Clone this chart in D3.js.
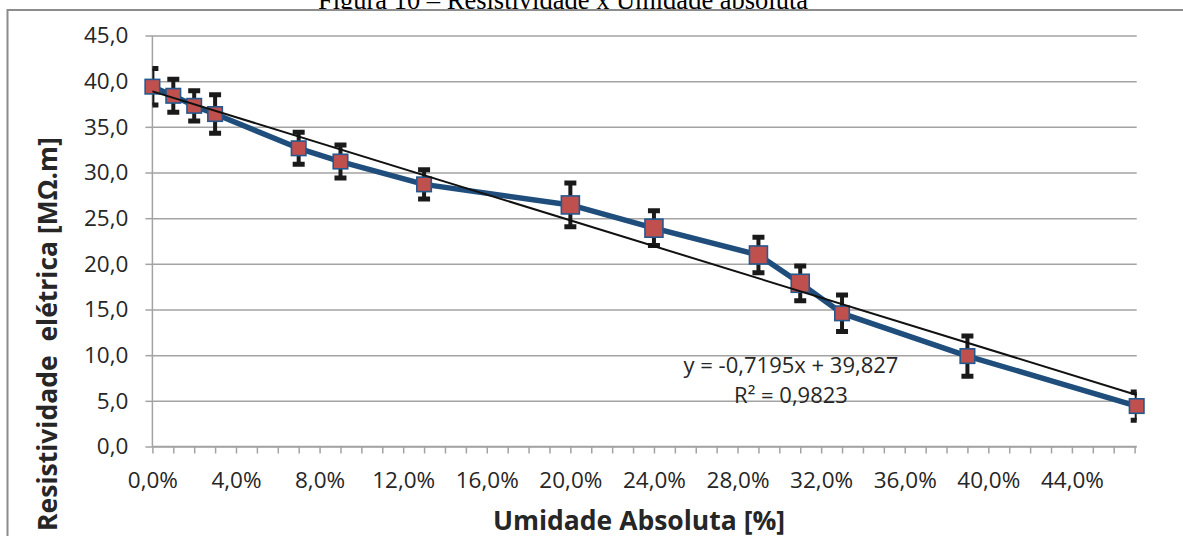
<!DOCTYPE html>
<html>
<head>
<meta charset="utf-8">
<script src="https://cdn.jsdelivr.net/npm/d3@7"></script>
<style>
  body { margin: 0; background: #fff; }
  svg { display: block; }
</style>
</head>
<body>
<script>
// dados
var umidade = [0, 1, 2, 3, 7, 9, 13, 20, 24, 29, 31, 33, 39, 47.1];          // %
var resistividade = [39.4, 38.4, 37.3, 36.4, 32.65, 31.2, 28.7, 26.45, 23.9, 20.97, 17.87, 14.58, 9.9, 4.43]; // MOhm.m
var erro = [2.0, 1.8, 1.65, 2.1, 1.75, 1.8, 1.6, 2.4, 1.9, 1.95, 1.9, 2.0, 2.2, 1.55];
var xTicks = [0, 4, 8, 12, 16, 20, 24, 28, 32, 36, 40, 44];
var yTicks = [0, 5, 10, 15, 20, 25, 30, 35, 40, 45];
var equacao = ["y = -0,7195x + 39,827", "R² = 0,9823"];
var titulo = "Figura 10 – Resistividade x Umidade absoluta";
var tituloX = "Umidade Absoluta [%]";
var tituloY = "Resistividade  elétrica [MΩ.m]";

var W = 1183, H = 536;
var pLeft = 152.4, pRight = 1136.7, pTop = 35.5, pBottom = 446.5;
var font = "'Open Sans', 'Noto Sans', sans-serif";
var grid = "#a3a3a3", txt = "#262626";

var pt = d3.formatLocale({decimal: ",", thousands: ".", grouping: [3], currency: ["R$", ""]});
var fmt1 = pt.format(".1f");

var svg = d3.select('body').append('svg').attr('width', W).attr('height', H);

// legenda da figura (cortada no topo)
svg.append('text')
  .attr('x', 563).attr('y', 9)
  .attr('text-anchor', 'middle')
  .style('font-family', "'Liberation Serif', 'Times New Roman', serif")
  .style('font-size', '26.5px')
  .attr('fill', '#000')
  .text(titulo);

// area do grafico
svg.append('rect')
  .attr('x', 7.5).attr('y', 10).attr('width', W + 10).attr('height', H + 10)
  .attr('fill', '#fff').attr('stroke', '#8c8c8c').attr('stroke-width', 2);

var x = d3.scaleLinear().domain([0, umidade[umidade.length - 1]]).range([pLeft, pRight]);
var y = d3.scaleLinear().domain([0, 45]).range([pBottom, pTop]);

svg.append('clipPath').attr('id', 'plot')
  .append('rect').attr('x', pLeft).attr('y', pTop - 20).attr('width', pRight - pLeft).attr('height', pBottom - pTop + 20);

// grade horizontal + ticks do eixo y
var yAxis = svg.append('g').attr('transform', 'translate(' + pLeft + ',0)')
  .call(d3.axisLeft(y).tickValues(yTicks).tickSize(7).tickPadding(17).tickFormat(fmt1));
yAxis.selectAll('.tick line').clone()
  .attr('x2', pRight - pLeft);
yAxis.select('.domain').remove();
yAxis.selectAll('line').attr('stroke', grid).attr('stroke-width', 1.5);
yAxis.selectAll('text')
  .style('font-family', font).style('font-size', '22.5px').attr('fill', txt);
svg.append('line')
  .attr('x1', pLeft).attr('x2', pLeft).attr('y1', pTop).attr('y2', pBottom)
  .attr('stroke', grid).attr('stroke-width', 1.5);

// eixo x: marcas a cada 1%, rotulos a cada 4%
var xMinor = svg.append('g').attr('transform', 'translate(0,' + pBottom + ')')
  .call(d3.axisBottom(x).tickValues(d3.range(0, 48)).tickSize(7).tickFormat(''));
xMinor.selectAll('line, path').attr('stroke', grid).attr('stroke-width', 1.5);
xMinor.select('.domain').attr('d', 'M' + pLeft + ',0H' + pRight);

var xAxis = svg.append('g').attr('transform', 'translate(0,' + pBottom + ')')
  .call(d3.axisBottom(x).tickValues(xTicks).tickSize(0).tickPadding(26)
    .tickFormat(function(d){ return fmt1(d) + '%'; }));
xAxis.select('.domain').remove();
xAxis.selectAll('text')
  .style('font-family', font).style('font-size', '22.5px').attr('fill', txt);

// titulos dos eixos
svg.append('text')
  .attr('x', 639).attr('y', 530)
  .attr('text-anchor', 'middle')
  .style('font-family', font).style('font-size', '26.5px').style('font-weight', 'bold')
  .attr('fill', txt)
  .text(tituloX);

svg.append('text')
  .attr('transform', 'translate(57,334) rotate(-90)')
  .attr('text-anchor', 'middle')
  .style('font-family', font).style('font-size', '26.5px').style('font-weight', 'bold')
  .attr('fill', txt)
  .style('white-space', 'pre')
  .text(tituloY);

var dados = umidade.map(function(u, i){
  return {x: u, y: resistividade[i], e: erro[i]};
});

// serie
svg.append('path')
  .datum(dados)
  .attr('fill', 'none')
  .attr('stroke', '#1f4e7c')
  .attr('stroke-width', 5.5)
  .attr('stroke-linejoin', 'round')
  .attr('d', d3.line().x(function(d){ return x(d.x); }).y(function(d){ return y(d.y); }));

// barras de erro
var barras = svg.append('g').attr('clip-path', 'url(#plot)')
  .selectAll('g').data(dados).enter().append('g')
  .attr('stroke', '#1a1a1a').attr('stroke-width', 4);
barras.append('line')
  .attr('x1', function(d){ return x(d.x); }).attr('x2', function(d){ return x(d.x); })
  .attr('y1', function(d){ return y(d.y + d.e); }).attr('y2', function(d){ return y(d.y - d.e); });
barras.selectAll('line.cap')
  .data(function(d){ return [[d.x, d.y + d.e], [d.x, d.y - d.e]]; })
  .enter().append('line').attr('class', 'cap')
  .attr('stroke-width', 5)
  .attr('x1', function(d){ return x(d[0]) - 6; }).attr('x2', function(d){ return x(d[0]) + 6; })
  .attr('y1', function(d){ return y(d[1]); }).attr('y2', function(d){ return y(d[1]); });

// marcadores (alguns pontos aparecem maiores no original)
var grandes = [20, 24, 29, 31];
svg.append('g').selectAll('rect').data(dados).enter().append('rect')
  .each(function(d){
    var s = grandes.indexOf(d.x) >= 0 ? 18 : 14.5;
    d3.select(this)
      .attr('x', x(d.x) - s / 2).attr('y', y(d.y) - s / 2)
      .attr('width', s).attr('height', s);
  })
  .attr('fill', '#c0504d')
  .attr('stroke', '#24588f')
  .attr('stroke-width', 1.6);

// linha de tendencia (minimos quadrados sobre os dados)
var mx = d3.mean(umidade), my = d3.mean(resistividade);
var sxy = d3.sum(umidade, function(u, i){ return (u - mx) * (resistividade[i] - my); });
var sxx = d3.sum(umidade, function(u){ return (u - mx) * (u - mx); });
var a = sxy / sxx, b = my - a * mx;
var x0 = 0, x1 = umidade[umidade.length - 1];
svg.append('line')
  .attr('x1', x(x0)).attr('y1', y(a * x0 + b))
  .attr('x2', x(x1)).attr('y2', y(a * x1 + b))
  .attr('stroke', '#111').attr('stroke-width', 2);

// equacao
svg.append('g').selectAll('text').data(equacao).enter().append('text')
  .attr('x', 791)
  .attr('y', function(d, i){ return 373 + i * 30; })
  .attr('text-anchor', 'middle')
  .style('font-family', font).style('font-size', '22px')
  .attr('fill', txt)
  .text(function(d){ return d; });
</script>
</body>
</html>
